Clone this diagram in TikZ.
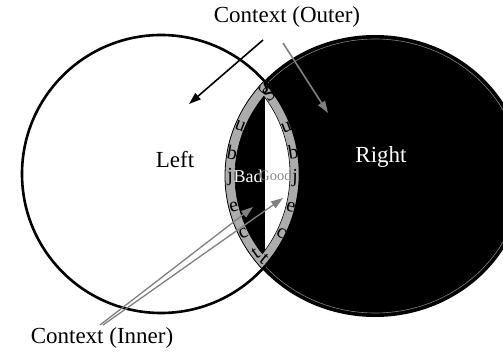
\documentclass[tikz,border=0pt]{standalone}
\usepackage{fontspec}
\setmainfont{Liberation Serif}
\usetikzlibrary{arrows.meta,calc}
\definecolor{band}{RGB}{172,172,172}
\definecolor{pointer}{RGB}{128,128,128}

\begin{document}
\begin{tikzpicture}[x=1pt,y=1pt,
    lbl/.style={font=\fontsize{23}{26}\selectfont,inner sep=0pt},
    letter/.style={font=\fontsize{20}{22}\selectfont,inner sep=0pt},
    tip/.style={-{Triangle[length=12pt,width=8pt]}}]
    \useasboundingbox (0,0) rectangle (503,351);
    \fill[white] (0,0) rectangle (503,351);
    \coordinate (cl) at (161,177);
    \coordinate (cr) at (375,175);
    \fill[white] (cl) circle (139);
    \fill[black] (cr) ellipse (150 and 141);
    \draw[pointer,line width=0.6pt] (cr) ellipse (146 and 137);
    \begin{scope}
      \clip (cl) circle (139);
      \fill[band] (cr) ellipse (150 and 141);
      \draw[line width=0.8pt] (cr) ellipse (150 and 141);
      \clip (cl) circle (129);
      \clip (cr) ellipse (140 and 131);
      \fill[black] (200,50) rectangle (265,300);
      \fill[white] (265,50) rectangle (320,300);
    \end{scope}
    \begin{scope}
      \clip (cl) circle (129);
      \draw[line width=0.6pt] (cr) ellipse (140 and 131);
    \end{scope}
    \begin{scope}
      \clip (cr) ellipse (140 and 131);
      \draw[line width=0.6pt] (cl) circle (129);
    \end{scope}
    \draw[line width=2.6pt] (cl) circle (139);
    \foreach \a/\ch [count=\i] in {139/S,158.4/u,169.9/b,180.4/j,193.2/e,204.8/c,214.5/t}
      \node[letter,rotate=\a-180] (ls\i) at ($(cr)+(\a:145 and 136)$) {\ch};
    \foreach \a/\ch [count=\i] in {36.5/S,20.5/u,9.4/b,-1.7/j,-14.3/e,-26.1/c,-39.5/t}
      \node[letter,rotate=\a] (rs\i) at ($(cl)+(\a:134)$) {\ch};
    \node[lbl] (left) at (175,191) {Left};
    \node[lbl,text=white] (right) at (381,194) {Right};
    \node[font=\fontsize{18}{20}\selectfont,inner sep=0pt,text=white] (bad) at (248,175) {Bad};
    \node[font=\fontsize{14.5}{17}\selectfont,inner sep=0pt,text=black!45] (good) at (275.5,175) {Good};
    \node[lbl] (outer) at (287,334) {Context (Outer)};
    \node[lbl] (inner) at (102,13) {Context (Inner)};
    \coordinate (outA) at (263,311);
    \coordinate (outB) at (283,308);
    \coordinate (leftend) at (189,247);
    \coordinate (rightend) at (328,238);
    \coordinate (inA) at (100,26);
    \coordinate (inB) at (103,26);
    \coordinate (badend) at (253,144);
    \coordinate (goodend) at (283,153);
    \draw[tip,line width=1.6pt] (outA) -- (leftend);
    \draw[tip,pointer,line width=1.6pt] (outB) -- (rightend);
    \draw[tip,pointer,line width=1.3pt] (inA) -- (badend);
    \draw[tip,pointer,line width=1.3pt] (inB) -- (goodend);
  \end{tikzpicture}
\end{document}
